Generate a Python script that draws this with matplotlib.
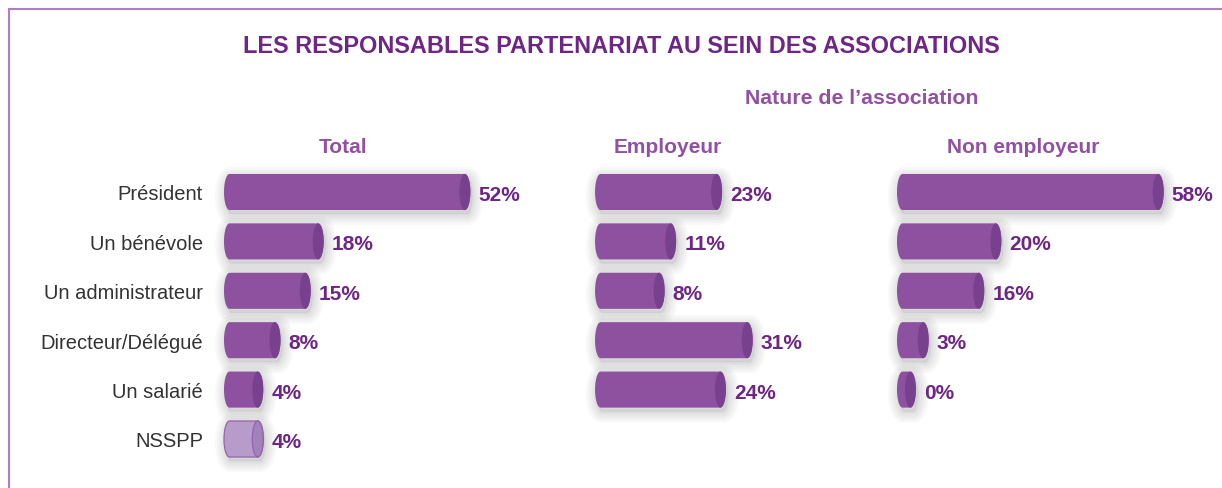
import numpy as np
import matplotlib
matplotlib.use("Agg")
import matplotlib.pyplot as plt
from matplotlib.path import Path
from matplotlib.patches import PathPatch, Ellipse
from matplotlib.lines import Line2D
from matplotlib.transforms import offset_copy

# ---- data -------------------------------------------------------------
categories = ["Président", "Un bénévole", "Un administrateur",
              "Directeur/Délégué", "Un salarié", "NSSPP"]
total = [52, 18, 15, 8, 4, 4]
employeur = [23, 11, 8, 31, 24]
non_employeur = [58, 20, 16, 3, 0]

title = "LES RESPONSABLES PARTENARIAT AU SEIN DES ASSOCIATIONS"
group_title = "Nature de l’association"
panel_titles = ["Total", "Employeur", "Non employeur"]

# ---- style ------------------------------------------------------------
plt.rcParams["font.family"] = ["Liberation Sans", "DejaVu Sans"]
DARK_PURPLE = "#6E2585"
HEAD_PURPLE = "#9250A5"
BAR = "#8D51A0"
BAR_CAP = "#78418D"
NS_BAR = "#B79BCB"
NS_CAP = "#A283B9"
NS_EDGE = "#9563AE"
BORDER = "#B07CC6"

W, H = 1222, 489
fig = plt.figure(figsize=(W / 100, H / 100), dpi=100)
fig.patch.set_facecolor("white")


def px_axes(left, right, top, bottom):
    return fig.add_axes([left / W, 1 - bottom / H, (right - left) / W,
                         (bottom - top) / H])


def fig_text(x_px, y_px, s, **kw):
    # y_px is where the visual middle of the capitals should sit
    return fig.text(x_px / W, 1 - (y_px + 2.5) / H, s, ha="center",
                    va="center", **kw)


ROW_TOP, ROW_STEP = 193, 49.4
n_rows = len(categories)
AX_TOP = ROW_TOP - ROW_STEP / 2
AX_BOTTOM = AX_TOP + ROW_STEP * n_rows
BAR_H = 0.73
CAP_PX = 5.5
SHADOW_WIDTHS = (16, 13, 10, 7, 4, 1.5)

# (values, pixel of 0 %, pixels per %, base value, axes left, axes right, header x)
panels = [
    (total, 240.5, 4.315, -2.55, 215, 545, 343),
    (employeur, 628.5, 3.83, -7.3, 585, 870, 668),
    (non_employeur, 910.4, 4.273, -1.85, 888, 1222, 1023.5),
]


def cylinder(ax, shadow_tr, x0, x1, y, rx, ry, face, cap, edge=None):
    t_left = np.linspace(np.pi / 2, 3 * np.pi / 2, 40)
    t_right = np.linspace(-np.pi / 2, np.pi / 2, 40)
    xs = np.concatenate([x0 + rx * np.cos(t_left), x1 + rx * np.cos(t_right)])
    ys = np.concatenate([y + ry * np.sin(t_left), y + ry * np.sin(t_right)])
    verts = np.column_stack([xs, ys])
    verts = np.vstack([verts, verts[:1]])
    path = Path(verts, closed=True)
    # soft drop shadow built from widening translucent outlines
    ax.add_patch(PathPatch(path, facecolor="k", edgecolor="none", alpha=0.05,
                           transform=shadow_tr, zorder=1, clip_on=False))
    for lw in SHADOW_WIDTHS:
        ax.add_patch(PathPatch(path, facecolor="none", edgecolor="k",
                               alpha=0.022, linewidth=lw, joinstyle="round",
                               transform=shadow_tr, zorder=1, clip_on=False))
    ax.add_patch(PathPatch(path, facecolor=face,
                           edgecolor=edge if edge else "none",
                           linewidth=0.9 if edge else 0, zorder=2,
                           clip_on=False))
    ax.add_patch(Ellipse((x1, y), 2 * rx, 2 * ry, facecolor=cap,
                         edgecolor=edge if edge else "none",
                         linewidth=0.9 if edge else 0, zorder=3,
                         clip_on=False))


for k, (vals, p0, scale, base, left, right, hx) in enumerate(panels):
    ax = px_axes(left, right, AX_TOP, AX_BOTTOM)
    ax.set_xlim((left - p0) / scale, (right - p0) / scale)
    ax.set_ylim(n_rows - 0.5, -0.5)
    for s in ax.spines.values():
        s.set_visible(False)
    ax.set_xticks([])
    ax.patch.set_alpha(0)
    rx = CAP_PX / scale
    label_tr = offset_copy(ax.transData, fig=fig, x=CAP_PX + 8, y=-2.5,
                           units="dots")
    shadow_tr = offset_copy(ax.transData, fig=fig, x=2, y=-4, units="dots")
    for i, v in enumerate(vals):
        is_ns = categories[i] == "NSSPP"
        cylinder(ax, shadow_tr, base, v, i, rx, BAR_H / 2,
                 NS_BAR if is_ns else BAR, NS_CAP if is_ns else BAR_CAP,
                 NS_EDGE if is_ns else None)
        ax.text(v, i, f"{v}%", transform=label_tr, ha="left", va="center",
                fontsize=15, fontweight="bold", color=DARK_PURPLE)
    if k == 0:
        ax.set_yticks(range(n_rows))
        ax.set_yticklabels(categories, fontsize=14.5, color="#333333")
        ax.tick_params(axis="y", length=0, pad=8.6)
    else:
        ax.set_yticks([])
    fig_text(hx, 145, panel_titles[k], fontsize=15, fontweight="bold",
             color=HEAD_PURPLE)

fig_text(621.5, 44, title, fontsize=16.9, fontweight="bold", color=DARK_PURPLE)
fig_text(861.5, 96, group_title, fontsize=15.3, fontweight="bold",
         color=HEAD_PURPLE)

# frame lines along the top and left edges
fig.add_artist(Line2D([9 / W, 9 / W], [0, 1 - 10 / H], transform=fig.transFigure,
                      color=BORDER, linewidth=1.5))
fig.add_artist(Line2D([9 / W, 1], [1 - 10 / H, 1 - 10 / H],
                      transform=fig.transFigure, color=BORDER, linewidth=1.5))

fig.savefig("out.png", dpi=100, facecolor="white")
